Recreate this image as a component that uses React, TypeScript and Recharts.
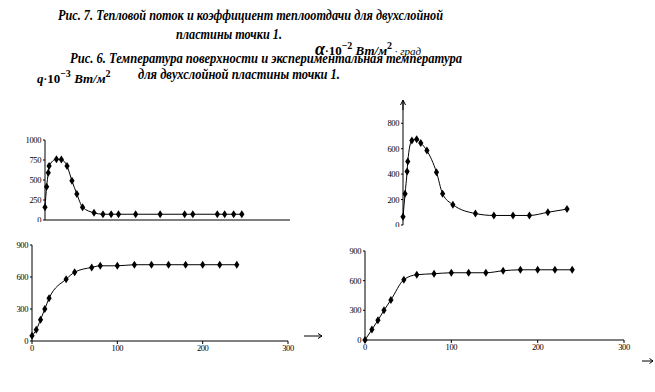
import React from "react"
import { LineChart, Line, XAxis, YAxis } from "recharts"

// Рис. 7 — тепловой поток q (верх слева)
const qTime = [0, 2, 4, 5, 14, 20, 27, 33, 39, 46, 60, 71, 81, 90, 111, 141, 171, 181, 211, 220, 231, 241]
const qValues = [160, 415, 590, 675, 760, 755, 675, 490, 325, 160, 90, 72, 72, 72, 72, 72, 72, 72, 72, 72, 72, 72]
const qTicks = [0, 250, 500, 750, 1000]

// Рис. 7 — коэффициент теплоотдачи α (верх справа)
const alphaTime = [0, 3, 6, 7, 13, 20, 26, 35, 49, 58, 73, 106, 133, 161, 185, 212, 240]
const alphaValues = [65, 245, 420, 500, 665, 675, 645, 585, 415, 245, 160, 90, 75, 75, 75, 100, 125]
const alphaTicks = [0, 200, 400, 600, 800]

// Рис. 6 — температура поверхности (низ слева)
const surfTime = [0, 5, 10, 15, 20, 40, 50, 70, 80, 100, 120, 140, 160, 180, 200, 220, 240]
const surfTemp = [50, 105, 200, 300, 400, 580, 645, 690, 705, 705, 715, 715, 715, 715, 715, 715, 715]

// Рис. 6 — экспериментальная температура (низ справа)
const expTime = [0, 8, 15, 22, 30, 45, 60, 80, 100, 120, 140, 160, 180, 200, 220, 240]
const expTemp = [0, 105, 200, 300, 405, 610, 660, 670, 680, 680, 680, 700, 710, 710, 710, 710]

const tempTicks = [0, 300, 600, 900]
const timeTicks = [0, 100, 200, 300]

const zip = (xs: number[], ys: number[]) => xs.map((x, i) => ({ x, y: ys[i] }))

const serif = "'Liberation Serif', 'Times New Roman', 'DejaVu Serif', serif"

// plain black tick text, Times-like and narrow
const Tick = (props: any) => {
  const { x, y, payload, textAnchor } = props
  return (
    <text x={x} y={y} dy="0.35em" textAnchor={textAnchor} fontSize={8.5} fill="#000" fontFamily={serif} letterSpacing={-0.4}>
      {payload.value}
    </text>
  )
}

const Diamond = (props: any) => {
  const { cx, cy } = props
  if (cx == null || cy == null) return null
  return <path d={`M${cx},${cy - 4}L${cx + 2.6},${cy}L${cx},${cy + 4}L${cx - 2.6},${cy}Z`} fill="#000" />
}

const series = (
  <Line
    type="monotone"
    dataKey="y"
    stroke="#000"
    strokeWidth={1}
    dot={<Diamond />}
    activeDot={false}
    isAnimationActive={false}
  />
)

const titleFont = {
  fontFamily: serif,
  fontWeight: 700,
  fontStyle: "italic" as const,
  fill: "#000",
}

const axisProps = {
  stroke: "#000",
  interval: 0 as const,
  axisLine: { stroke: "#000" },
  tickLine: { stroke: "#000" },
}

export default function App() {
  return (
    <div style={{ position: "absolute", left: 0, top: 0, width: 655, height: 392, background: "#fff", overflow: "hidden" }}>
      <div style={{ position: "absolute", left: 0, top: 130 }}>
        <LineChart width={300} height={100} data={zip(qTime, qValues)} margin={{ top: 10, right: 10, bottom: 0, left: 0 }}>
          <XAxis type="number" dataKey="x" domain={[0, 300]} height={10} tick={false} stroke="#000" tickLine={false} axisLine={{ stroke: "#000" }} />
          <YAxis width={45} domain={[0, 1000]} ticks={qTicks} tick={<Tick />} tickSize={2} tickMargin={2} {...axisProps} />
          {series}
        </LineChart>
      </div>

      <div style={{ position: "absolute", left: 360, top: 95 }}>
        <LineChart width={270} height={135} data={zip(alphaTime, alphaValues)} margin={{ top: 5, right: 22, bottom: 5, left: 0 }}>
          <XAxis type="number" dataKey="x" domain={[0, 300]} hide />
          <YAxis width={43} domain={[0, 983]} ticks={alphaTicks} tick={<Tick />} tickSize={2} tickMargin={2} {...axisProps} />
          {series}
        </LineChart>
      </div>

      <div style={{ position: "absolute", left: 0, top: 222, width: 330, height: 170, background: "#fff" }}>
        <div style={{ position: "absolute", left: 0, top: 4 }}>
          <LineChart width={330} height={166} data={zip(surfTime, surfTemp)} margin={{ top: 19, right: 42, bottom: 31, left: 0 }}>
            <XAxis type="number" dataKey="x" domain={[0, 300]} ticks={timeTicks} height={20} tick={<Tick />} tickSize={3} tickMargin={4} {...axisProps} />
            <YAxis width={32} domain={[0, 900]} ticks={tempTicks} tick={<Tick />} tickSize={2} tickMargin={2} {...axisProps} />
            {series}
          </LineChart>
        </div>
      </div>

      <div style={{ position: "absolute", left: 330, top: 227, width: 325, height: 165, background: "#fff" }}>
        <div style={{ position: "absolute", left: 0, top: -1 }}>
          <LineChart width={325} height={166} data={zip(expTime, expTemp)} margin={{ top: 25, right: 31, bottom: 32, left: 0 }}>
            <XAxis type="number" dataKey="x" domain={[0, 300]} ticks={timeTicks} height={20} tick={<Tick />} tickSize={3} tickMargin={4} {...axisProps} />
            <YAxis width={35} domain={[0, 900]} ticks={tempTicks} tick={<Tick />} tickSize={2} tickMargin={2} {...axisProps} />
            {series}
          </LineChart>
        </div>
      </div>

      <svg width={655} height={392} style={{ position: "absolute", left: 0, top: 0, pointerEvents: "none" }}>
        <text x={58} y={20} fontSize={14.5} textLength={385} lengthAdjust="spacingAndGlyphs" {...titleFont}>
          Рис. 7. Тепловой поток и коэффициент теплоотдачи для двухслойной
        </text>
        <text x={176} y={39} fontSize={14.5} textLength={106} lengthAdjust="spacingAndGlyphs" {...titleFont}>
          пластины  точки 1.
        </text>
        <text x={70} y={63} fontSize={14.5} textLength={392} lengthAdjust="spacingAndGlyphs" {...titleFont}>
          Рис. 6. Температура поверхности и экспериментальная температура
        </text>
        <text x={138} y={79} fontSize={14.5} textLength={202} lengthAdjust="spacingAndGlyphs" {...titleFont}>
          для двухслойной пластины  точки 1.
        </text>

        <text x={315} y={55} {...titleFont}>
          <tspan fontSize={18}>α</tspan>
          <tspan fontSize={11} fontStyle="normal">·</tspan>
          <tspan fontSize={13} fontStyle="normal">10</tspan>
          <tspan fontSize={10} dy={-6} fontStyle="normal">−2</tspan>
          <tspan fontSize={13} dy={6}> Вт/м</tspan>
          <tspan fontSize={10} dy={-6} fontStyle="normal">2</tspan>
          <tspan fontSize={11} dy={6} fontWeight={400}> · град</tspan>
        </text>

        <text x={37} y={83} {...titleFont}>
          <tspan fontSize={13}>q</tspan>
          <tspan fontSize={11} fontStyle="normal">·</tspan>
          <tspan fontSize={13} fontStyle="normal">10</tspan>
          <tspan fontSize={10} dy={-6} fontStyle="normal">−3</tspan>
          <tspan fontSize={13} dy={6}> Вт/м</tspan>
          <tspan fontSize={10} dy={-6} fontStyle="normal">2</tspan>
        </text>

        <g stroke="#000" strokeWidth={1} fill="none">
          <path d="M403,101L403,110" />
          <path d="M400.5,105L403,100L405.5,105" />
          <path d="M304,336L322,336M318,333.5L322,336L318,338.5" />
          <path d="M642,361L653,361M649.5,358.5L653,361L649.5,363.5" />
        </g>
      </svg>
    </div>
  )
}
